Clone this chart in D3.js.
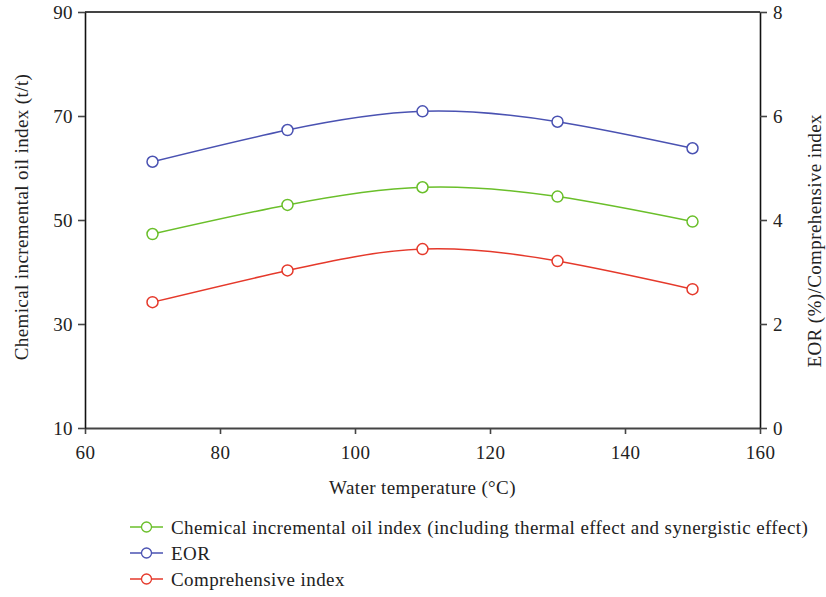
<!DOCTYPE html>
<html>
<head>
<meta charset="utf-8">
<script src="https://cdn.jsdelivr.net/npm/d3@7"></script>
<style>
  body { margin: 0; background: #fff; }
</style>
</head>
<body>
<svg id="chart" width="826" height="597"></svg>
<script>
// data
const temps = [70, 90, 110, 130, 150]
const chemIndex = [47.3, 52.9, 56.3, 54.5, 49.7]   // left axis
const eor = [5.12, 5.73, 6.09, 5.89, 5.38]         // right axis
const compIndex = [2.42, 3.03, 3.44, 3.21, 2.67]   // right axis

const xTicks = [60, 80, 100, 120, 140, 160]
const leftTicks = [10, 30, 50, 70, 90]
const rightTicks = [0, 2, 4, 6, 8]

const series = [
  { name: 'Chemical incremental oil index (including thermal effect and synergistic effect)', values: chemIndex, axis: 'left', color: '#6abf2a' },
  { name: 'EOR', values: eor, axis: 'right', color: '#4a52b2' },
  { name: 'Comprehensive index', values: compIndex, axis: 'right', color: '#e5392b' }
]

const FONT = '"Liberation Serif", "Times New Roman", Times, serif'

const svg = d3.select('#chart')
const margin = { top: 12, right: 66, bottom: 169, left: 85 }
const width = 826, height = 597
const innerW = width - margin.left - margin.right
const innerH = height - margin.top - margin.bottom

const x = d3.scaleLinear().domain([60, 160]).range([margin.left, margin.left + innerW])
const yL = d3.scaleLinear().domain([10, 90]).range([margin.top + innerH, margin.top])
const yR = d3.scaleLinear().domain([0, 8]).range([margin.top + innerH, margin.top])

const axisColor = '#444'

// top frame line
svg.append('line')
  .attr('x1', x(60)).attr('x2', x(160))
  .attr('y1', yL(90)).attr('y2', yL(90))
  .attr('stroke', axisColor).attr('stroke-width', 2)

// axes
const xAxis = svg.append('g')
  .attr('transform', `translate(0,${yL(10)})`)
  .call(d3.axisBottom(x).tickValues(xTicks).tickSize(6).tickPadding(7).tickSizeOuter(0))
const leftAxis = svg.append('g')
  .attr('transform', `translate(${x(60)},0)`)
  .call(d3.axisLeft(yL).tickValues(leftTicks).tickSize(7).tickPadding(5).tickSizeOuter(0))
const rightAxis = svg.append('g')
  .attr('transform', `translate(${x(160)},0)`)
  .call(d3.axisRight(yR).tickValues(rightTicks).tickSize(7).tickPadding(6).tickSizeOuter(0))

;[xAxis, leftAxis, rightAxis].forEach(a => {
  a.attr('font-family', FONT)
  a.select('.domain').attr('stroke', axisColor).attr('stroke-width', 2)
  a.selectAll('.tick line').attr('stroke', axisColor).attr('stroke-width', 1.6)
  a.selectAll('.tick text').attr('font-size', 19).attr('fill', '#222')
    .attr('font-family', FONT).attr('letter-spacing', 0.4)
})
leftAxis.select('.domain').attr('stroke', '#111').attr('stroke-width', 1.6)
rightAxis.select('.domain').attr('stroke', '#111').attr('stroke-width', 1.6)
xAxis.selectAll('.tick text').attr('dy', '0.95em')

function label(sel) {
  return sel.attr('font-family', FONT).attr('font-size', 19)
    .attr('letter-spacing', 0.4).attr('fill', '#222')
}

// axis titles
label(svg.append('text'))
  .attr('x', x(110)).attr('y', 494)
  .attr('text-anchor', 'middle')
  .text('Water temperature (°C)')
label(svg.append('text'))
  .attr('transform', `translate(28,${yL(50) - 3}) rotate(-90)`)
  .attr('text-anchor', 'middle')
  .text('Chemical incremental oil index (t/t)')
label(svg.append('text'))
  .attr('transform', `translate(821,${yR(3.6)}) rotate(-90)`)
  .attr('text-anchor', 'middle')
  .text('EOR (%)/Comprehensive index')

// lines + markers
series.forEach(s => {
  const y = s.axis === 'left' ? yL : yR
  const pts = temps.map((t, i) => [t, s.values[i]])
  const line = d3.line()
    .x(d => x(d[0]))
    .y(d => y(d[1]))
    .curve(d3.curveNatural)
  svg.append('path')
    .datum(pts)
    .attr('fill', 'none')
    .attr('stroke', s.color)
    .attr('stroke-width', 1.5)
    .attr('d', line)
  svg.append('g').selectAll('circle')
    .data(pts)
    .join('circle')
    .attr('cx', d => x(d[0]))
    .attr('cy', d => y(d[1]))
    .attr('r', 5.5)
    .attr('fill', '#fff')
    .attr('stroke', s.color)
    .attr('stroke-width', 1.5)
})

// legend
const legend = svg.append('g').attr('transform', 'translate(130,527)')
series.forEach((s, i) => {
  const g = legend.append('g').attr('transform', `translate(0,${i * 26})`)
  g.append('line').attr('x1', 0).attr('x2', 33).attr('y1', 0).attr('y2', 0)
    .attr('stroke', s.color).attr('stroke-width', 1.3)
  g.append('circle').attr('cx', 16.5).attr('cy', 0).attr('r', 5)
    .attr('fill', '#fff').attr('stroke', s.color).attr('stroke-width', 1.3)
  label(g.append('text')).attr('x', 41).attr('y', 0).attr('dy', '0.35em')
    .text(s.name)
})
</script>
</body>
</html>
